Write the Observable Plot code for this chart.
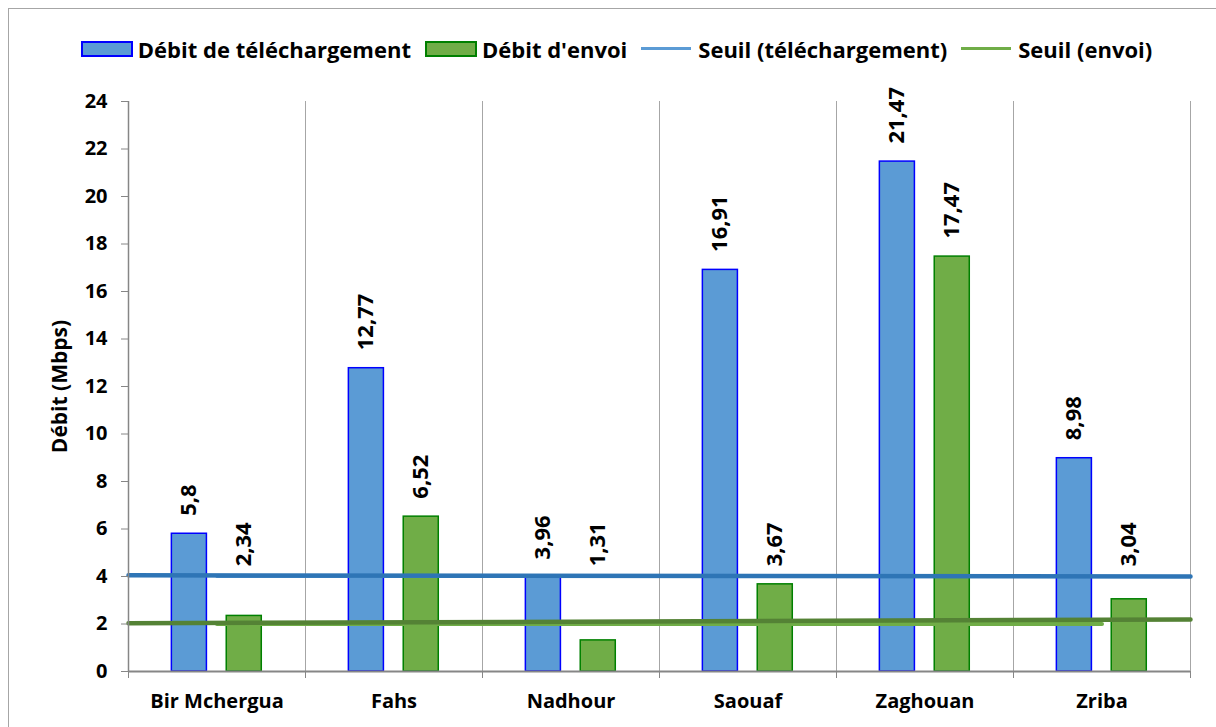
<!DOCTYPE html>
<html>
<head>
<meta charset="utf-8">
<script src="https://cdn.jsdelivr.net/npm/d3@7"></script>
<script src="https://cdn.jsdelivr.net/npm/@observablehq/plot@0.6"></script>
<style>
  html, body { margin: 0; padding: 0; background: #fff; overflow: hidden; }
  body { width: 1216px; height: 727px; position: relative; font-family: "Open Sans", Lato, sans-serif; }
  #frame { position: absolute; left: 8px; top: 8px; width: 1300px; height: 800px; border: 1px solid #A6A6A6; box-sizing: border-box; }
  #legend { position: absolute; left: 0; top: 0; width: 1216px; height: 75px; display: flex; justify-content: center; align-items: center; padding-top: 22px; box-sizing: border-box; font-weight: bold; font-size: 22px; color: #000; padding-left: 17px; }
  .item { display: flex; align-items: center; margin-right: 14px; }
  .item:last-child { margin-right: 0; }
  .sw { width: 52px; height: 16px; margin-right: 5px; box-sizing: border-box; }
  .ln { width: 50px; height: 3px; margin-right: 7px; }
  #chart { position: absolute; left: 0; top: 75px; }
</style>
</head>
<body>
<div id="frame"></div>
<div id="legend"></div>
<div id="chart"></div>
<script>
// ---- data ----
const categories = ["Bir Mchergua", "Fahs", "Nadhour", "Saouaf", "Zaghouan", "Zriba"];
const download = [5.8, 12.77, 3.96, 16.91, 21.47, 8.98];
const upload = [2.34, 6.52, 1.31, 3.67, 17.47, 3.04];
const downloadLabels = ["5,8", "12,77", "3,96", "16,91", "21,47", "8,98"];
const uploadLabels = ["2,34", "6,52", "1,31", "3,67", "17,47", "3,04"];
const yTicks = [0, 2, 4, 6, 8, 10, 12, 14, 16, 18, 20, 22, 24];
const seuilDownload = 4;
const seuilUpload = 2;
// hand-drawn threshold strokes overlaid in the picture (left end, right end)
const seuilDownloadDrawn = [4.05, 4.0];
const seuilUploadDrawn = [2.03, 2.19];
const seriesNames = ["Débit de téléchargement", "Débit d'envoi", "Seuil (téléchargement)", "Seuil (envoi)"];

// ---- legend ----
const legend = document.getElementById("legend");
const legendStyles = [
  {cls: "sw", bg: "#5B9BD5", border: "2px solid #0000FF"},
  {cls: "sw", bg: "#70AD47", border: "2px solid #008000"},
  {cls: "ln", bg: "#5B9BD5"},
  {cls: "ln", bg: "#70AD47"}
];
seriesNames.forEach((name, i) => {
  const it = document.createElement("div");
  it.className = "item";
  const s = document.createElement("div");
  s.className = legendStyles[i].cls;
  s.style.background = legendStyles[i].bg;
  if (legendStyles[i].border) s.style.border = legendStyles[i].border;
  const t = document.createElement("span");
  t.textContent = name;
  it.appendChild(s); it.appendChild(t);
  legend.appendChild(it);
});

// ---- chart ----
const idx = d3.range(categories.length);
const bounds = d3.range(categories.length + 1);
const gridBounds = bounds.slice(1);
const catCenters = idx.map(i => i + 0.5);

const dlOff = [0.245, 0.443];
const ulOff = [0.555, 0.753];
const FONT = "'Open Sans', Lato, sans-serif";
// labels of short bars are lifted just above the download threshold line (as in the picture)
const labelY = v => Math.max(v, seuilDownload - 0.33);

const plot = Plot.plot({
  width: 1216,
  height: 652,
  marginLeft: 128,
  marginRight: 26,
  marginTop: 26,
  marginBottom: 56,
  style: {fontFamily: FONT, fontWeight: "bold", fontSize: "20px", color: "#000", background: "transparent"},
  x: {type: "linear", domain: [0, categories.length], axis: null},
  y: {domain: [0, 24], axis: null},
  marks: [
    Plot.ruleX(gridBounds, {stroke: "#A6A6A6", strokeWidth: 1}),
    // bars
    Plot.rectY(idx, {x1: i => i + dlOff[0], x2: i => i + dlOff[1], y1: 0, y2: i => download[i], fill: "#5B9BD5", stroke: "#0000FF", strokeWidth: 1.5}),
    Plot.rectY(idx, {x1: i => i + ulOff[0], x2: i => i + ulOff[1], y1: 0, y2: i => upload[i], fill: "#70AD47", stroke: "#008000", strokeWidth: 1.5}),
    // threshold series (constant) from first to last category
    Plot.line([0, categories.length - 1], {x: i => catCenters[i], y: () => seuilDownload, stroke: "#5B9BD5", strokeWidth: 3}),
    Plot.line([0, categories.length - 1], {x: i => catCenters[i], y: () => seuilUpload, stroke: "#70AD47", strokeWidth: 4}),
    // drawn threshold strokes across full width
    Plot.line([0, 1], {x: i => bounds[i * categories.length], y: i => seuilDownloadDrawn[i], stroke: "#2E75B6", strokeWidth: 4.5, clip: false}),
    Plot.line([0, 1], {x: i => bounds[i * categories.length], y: i => seuilUploadDrawn[i], stroke: "#548235", strokeWidth: 4.5, clip: false}),
    // axes lines
    Plot.ruleX([0], {y1: 0, y2: 24, stroke: "#868686", strokeWidth: 1.5}),
    Plot.ruleY([0], {stroke: "#868686", strokeWidth: 2}),
    Plot.axisY(yTicks, {tickSize: 7, tickPadding: 14, stroke: "#868686", fontSize: 20, fontWeight: "bold", fill: "#000", label: null}),
    Plot.axisX(bounds, {tickSize: 7, tickFormat: () => "", stroke: "#868686", label: null}),
    Plot.axisX(catCenters, {tickSize: 0, tickPadding: 22, tickFormat: d => categories[Math.round(d - 0.5)], fontSize: 20, fontWeight: "bold", fill: "#000", label: null}),
    // value labels
    Plot.text(idx, {x: i => i + (dlOff[0] + dlOff[1]) / 2, y: i => labelY(download[i]), text: i => downloadLabels[i], rotate: -90, textAnchor: "start", lineAnchor: "middle", dy: -18, fontSize: 22, fontWeight: "bold", fill: "#000"}),
    Plot.text(idx, {x: i => i + (ulOff[0] + ulOff[1]) / 2, y: i => labelY(upload[i]), text: i => uploadLabels[i], rotate: -90, textAnchor: "start", lineAnchor: "middle", dy: -18, fontSize: 22, fontWeight: "bold", fill: "#000"}),
    // y title
    Plot.text(["Débit (Mbps)"], {frameAnchor: "left", rotate: -90, textAnchor: "middle", dx: -68, fontSize: 21, fontWeight: "bold", fill: "#000"})
  ]
});
document.getElementById("chart").appendChild(plot);
</script>
</body>
</html>
